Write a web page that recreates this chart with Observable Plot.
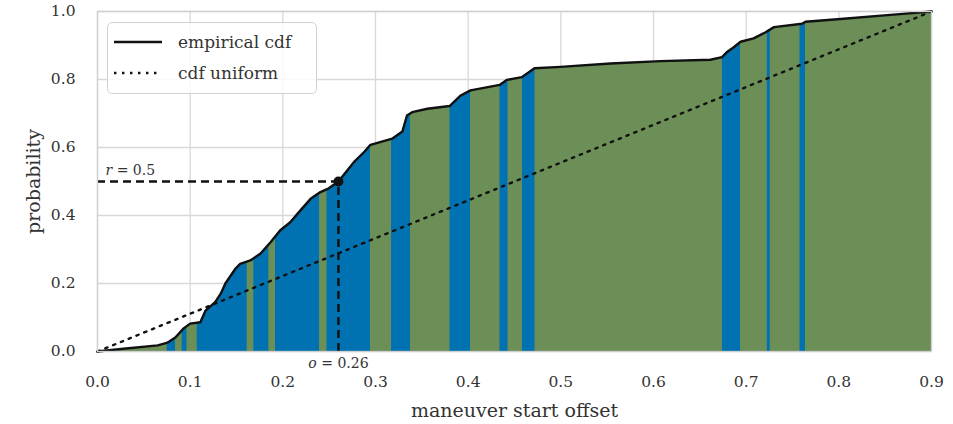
<!DOCTYPE html>
<html><head><meta charset="utf-8">
<script src="https://cdn.jsdelivr.net/npm/d3@7"></script>
<script src="https://cdn.jsdelivr.net/npm/@observablehq/plot@0.6"></script>
<style>
body{margin:0;background:#fff;}
#wrap{position:relative;width:953px;height:424px;font-family:"DejaVu Serif",serif;color:#333;}
#legend{position:absolute;left:107px;top:22px;width:210px;height:72px;border:1.3px solid #d2d2d2;border-radius:5px;background:rgba(255,255,255,0.85);box-sizing:border-box;}
#legend .item{position:absolute;left:0;height:20px;display:flex;align-items:center;font-size:17px;white-space:nowrap;}
#legend svg{margin-left:6px;margin-right:16px;}
</style>
</head><body>
<div id="wrap"><div id="chart"></div>
<div id="legend">
 <div class="item" style="top:9px"><svg width="48" height="6"><line x1="0" y1="3" x2="48" y2="3" stroke="#111" stroke-width="2.6"/></svg>empirical cdf</div>
 <div class="item" style="top:40px"><svg width="48" height="6"><line x1="0" y1="3" x2="48" y2="3" stroke="#111" stroke-width="2.4" stroke-dasharray="2.4,5.6"/></svg>cdf uniform</div>
</div>
</div>
<script>
// empirical CDF
const cdfX = [0.000,0.028,0.065,0.0755,0.084,0.093,0.100,0.111,0.1165,0.127,0.133,0.138,0.149,0.154,0.165,0.176,0.187,0.197,0.208,0.219,0.230,0.2406,0.2496,0.260,0.2695,0.2767,0.2875,0.2946,0.305,0.318,0.329,0.334,0.3396,0.356,0.380,0.392,0.4025,0.434,0.442,0.458,0.4716,0.4996,0.5536,0.6075,0.6615,0.674,0.679,0.6866,0.694,0.708,0.721,0.730,0.7604,0.764,0.8018,0.8557,0.900];
const cdfY = [0.000,0.008,0.018,0.026,0.041,0.068,0.082,0.086,0.120,0.145,0.170,0.200,0.244,0.258,0.268,0.288,0.322,0.356,0.380,0.415,0.449,0.469,0.480,0.500,0.532,0.557,0.586,0.608,0.616,0.626,0.647,0.694,0.704,0.714,0.722,0.753,0.768,0.784,0.799,0.807,0.833,0.837,0.847,0.854,0.858,0.866,0.880,0.895,0.911,0.921,0.939,0.954,0.964,0.970,0.978,0.990,1.000];
// blue bands (start, end)
const bandStart = [0.0752,0.0914,0.1076,0.1687,0.1921,0.2477,0.3173,0.3804,0.4343,0.4586,0.6744,0.7228,0.7581];
const bandEnd   = [0.0842,0.0966,0.1615,0.1849,0.2396,0.2946,0.3378,0.4025,0.4430,0.4721,0.6939,0.7260,0.7640];
// uniform cdf
const uniX = [0.0, 0.9];
const uniY = [0.0, 1.0];
const xTicks = [0.0,0.1,0.2,0.3,0.4,0.5,0.6,0.7,0.8,0.9];
const yTicks = [0.0,0.2,0.4,0.6,0.8,1.0];
const rVal = 0.5, oVal = 0.26;
const xLabel = "maneuver start offset", yLabel = "probability";

const GREEN = "#6b8f57", BLUE = "#0072b2";
const cdf = cdfX.map((x,i)=>({x, y: cdfY[i]}));
const bands = bandStart.map((s,i)=>({x1: s, x2: bandEnd[i]}));
const uni = uniX.map((x,i)=>({x, y: uniY[i]}));

const chart = Plot.plot({
  width: 953, height: 424,
  marginLeft: 97, marginRight: 22, marginTop: 11, marginBottom: 73,
  style: {fontFamily: "DejaVu Serif", fontSize: "15.5px", color: "#333", background: "white"},
  x: {domain: [0, 0.9], ticks: xTicks, tickFormat: ".1f", tickSize: 0, tickPadding: 24, label: null},
  y: {domain: [0, 1], ticks: yTicks, tickFormat: ".1f", tickSize: 0, tickPadding: 22, label: null},
  marks: [
    Plot.ruleX(xTicks, {stroke: "#d8d8d8", strokeWidth: 1.3}),
    Plot.ruleY(yTicks, {stroke: "#d8d8d8", strokeWidth: 1.3}),
    Plot.areaY(cdf, {x: "x", y: "y", fill: GREEN}),
    Plot.rect(bands, {x1: "x1", x2: "x2", fill: BLUE}),
    Plot.line(cdf, {x: "x", y: "y", stroke: "#111", strokeWidth: 2.4}),
    Plot.line(uni, {x: "x", y: "y", stroke: "#111", strokeWidth: 2.4, strokeDasharray: "2.4,6"}),
    Plot.ruleY([rVal], {x1: uniX[0], x2: oVal, stroke: "#111", strokeWidth: 2.5, strokeDasharray: "8,5"}),
    Plot.ruleX([oVal], {y1: uniY[0], y2: rVal, stroke: "#111", strokeWidth: 2.5, strokeDasharray: "8,5"}),
    Plot.dot([{x: oVal, y: rVal}], {x: "x", y: "y", r: 5, fill: "#111"}),
    Plot.text(["r = 0.5"], {text: d=>d, y: [rVal], frameAnchor: "left", textAnchor: "start", lineAnchor: "middle", dx: 8, dy: -11, fontSize: 14, fill: "#333"}),
    Plot.text(["o = 0.26"], {text: d=>d, x: [oVal], frameAnchor: "bottom", lineAnchor: "middle", dy: 12, fontSize: 14, fill: "#333"}),
    Plot.text([xLabel], {text: d=>d, frameAnchor: "bottom", lineAnchor: "middle", textAnchor: "middle", dy: 59, fontSize: 19, fill: "#333"}),
    Plot.text([yLabel], {text: d=>d, frameAnchor: "left", textAnchor: "middle", lineAnchor: "middle", dx: -64, rotate: -90, fontSize: 19, fill: "#333"}),
    Plot.frame({stroke: "#cfcfcf", strokeWidth: 1.3})
  ]
});
document.getElementById("chart").append(chart);

// clip the blue bands to the area under the empirical cdf
const ns = "http://www.w3.org/2000/svg";
const areaG = chart.querySelector('g[aria-label="area"]');
const areaPath = areaG.querySelector("path");
const defs = document.createElementNS(ns, "defs");
const cp = document.createElementNS(ns, "clipPath");
cp.setAttribute("id", "underCdf");
const p = document.createElementNS(ns, "path");
p.setAttribute("d", areaPath.getAttribute("d"));
const tr = [areaG.getAttribute("transform"), areaPath.getAttribute("transform")].filter(Boolean).join(" ");
if (tr) p.setAttribute("transform", tr);
cp.append(p); defs.append(cp); chart.prepend(defs);
const rectG = chart.querySelector('g[aria-label="rect"]');
const wrapG = document.createElementNS(ns, "g");
wrapG.setAttribute("clip-path", "url(#underCdf)");
rectG.parentNode.insertBefore(wrapG, rectG);
wrapG.append(rectG);

// italic math letters
chart.querySelectorAll("text").forEach(t => {
  const s = t.textContent;
  if (s === "r = 0.5" || s === "o = 0.26") {
    const rest = s.slice(1);
    t.textContent = "";
    const a = document.createElementNS(ns, "tspan"); a.setAttribute("font-style", "italic"); a.textContent = s[0];
    const b = document.createElementNS(ns, "tspan"); b.textContent = rest;
    t.append(a, b);
  }
});
</script>
</body></html>
